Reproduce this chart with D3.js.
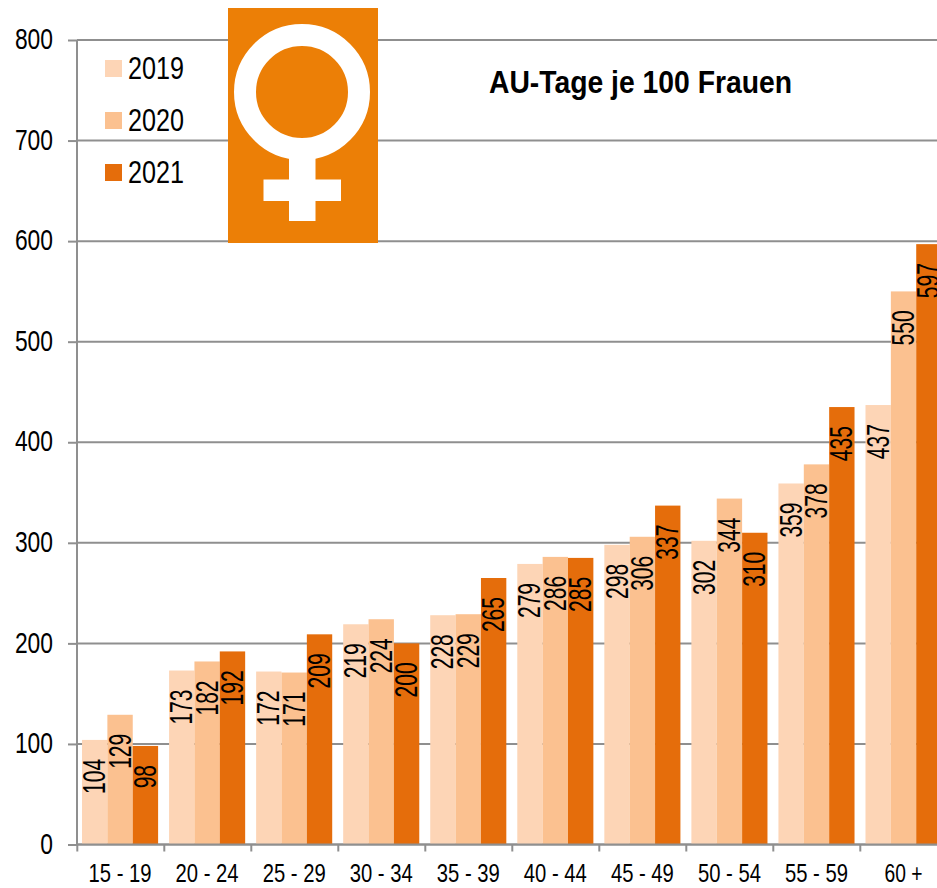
<!DOCTYPE html>
<html><head><meta charset="utf-8">
<script src="https://cdn.jsdelivr.net/npm/d3@7"></script>
<style>html,body{margin:0;padding:0;background:#fff}svg{display:block}text{font-family:"Liberation Sans",Arial,sans-serif;fill:#000}</style>
</head><body><svg id="c" width="937" height="888"></svg>
<script>
const categories=["15 - 19","20 - 24","25 - 29","30 - 34","35 - 39","40 - 44","45 - 49","50 - 54","55 - 59","60 +"];
const years=["2019","2020","2021"];
const values2019=[104,173,172,219,228,279,298,302,359,437];
const values2020=[129,182,171,224,229,286,306,344,378,550];
const values2021=[98,192,209,200,265,285,337,310,435,597];
const yTicks=[0,100,200,300,400,500,600,700,800];
const colors=["#FDD5B6","#FBC190","#E56D0B"];
const titleText="AU-Tage je 100 Frauen";
const series=[values2019,values2020,values2021];
const svg=d3.select("#c");
const y=d3.scaleLinear().domain([0,800]).range([844.5,40]);
const x=d3.scaleBand().domain(categories).range([76.8,946.8]).paddingInner(0.126).paddingOuter(0.06);
const x1=d3.scaleBand().domain(years).range([0,x.bandwidth()]);
const grid="#8f8f8f";
// grid
svg.append("g").selectAll("line").data(yTicks).join("line")
 .attr("x1",77).attr("x2",937).attr("y1",d=>y(d)).attr("y2",d=>y(d)).attr("stroke",grid).attr("stroke-width",2);
// bars
years.forEach((yr,i)=>{
 svg.append("g").selectAll("rect").data(series[i]).join("rect")
  .attr("x",(d,j)=>x(categories[j])+x1(yr)).attr("width",x1.bandwidth())
  .attr("y",d=>y(d)).attr("height",d=>y(0)-y(d)).attr("fill",colors[i]);
});
// axes
const yAxis=d3.axisLeft(y).tickValues(yTicks).tickSize(9).tickPadding(15);
const gy=svg.append("g").attr("transform","translate(77,0)").call(yAxis);
const xAxis=d3.axisBottom(d3.scaleLinear().domain([0,categories.length]).range([76.8,946.8])).tickValues(d3.range(categories.length+1)).tickSize(7).tickFormat("");
const gx=svg.append("g").attr("transform",`translate(0,${y(0)})`).call(xAxis);
[gy,gx].forEach(g=>{g.selectAll("path,line").attr("stroke",grid).attr("stroke-width",2);});
gy.select("path").attr("d","M0,40V844.5");
gx.select("path").attr("d","M77,0H947");
gy.selectAll("text").attr("font-size",30).attr("dy","0.29em").attr("fill","#000")
 .attr("textLength",d=>String(d).length*12.7).attr("lengthAdjust","spacingAndGlyphs");
// category labels
svg.append("g").selectAll("text").data(categories).join("text")
 .attr("x",d=>x(d)+x.bandwidth()/2).attr("y",882).attr("text-anchor","middle").attr("font-size",25)
 .attr("textLength",d=>d==="60 +"?38:63).attr("lengthAdjust","spacingAndGlyphs").text(d=>d);
// value labels
years.forEach((yr,i)=>{
 svg.append("g").selectAll("text").data(series[i]).join("text")
  .attr("transform",(d,j)=>`translate(${x(categories[j])+x1(yr)+x1.bandwidth()/2+10.5},${y(d)+19}) rotate(-90)`)
  .attr("text-anchor","end").attr("font-size",31)
  .attr("textLength",d=>String(d).length*11.7).attr("lengthAdjust","spacingAndGlyphs").text(d=>d);
});
// legend
years.forEach((yr,i)=>{
 const ly=60+i*52;
 svg.append("rect").attr("x",105).attr("y",ly).attr("width",17).attr("height",17).attr("fill",colors[i]);
 svg.append("text").attr("x",128).attr("y",ly+18.5).attr("font-size",31).attr("textLength",56).attr("lengthAdjust","spacingAndGlyphs").text(yr);
});
// venus icon
const icon=svg.append("g");
icon.append("rect").attr("x",228).attr("y",8).attr("width",150).attr("height",235).attr("fill","#EC7F06");
icon.append("circle").attr("cx",302).attr("cy",92).attr("r",57).attr("fill","none").attr("stroke","#fff").attr("stroke-width",22);
icon.append("rect").attr("x",289).attr("y",155).attr("width",26.5).attr("height",66).attr("fill","#fff");
icon.append("rect").attr("x",263.5).attr("y",179.5).attr("width",77.5).attr("height",21.5).attr("fill","#fff");
// title
svg.append("text").attr("x",489).attr("y",93).attr("font-size",32).attr("font-weight","bold").attr("textLength",303).attr("lengthAdjust","spacingAndGlyphs").text(titleText);
</script></body></html>
